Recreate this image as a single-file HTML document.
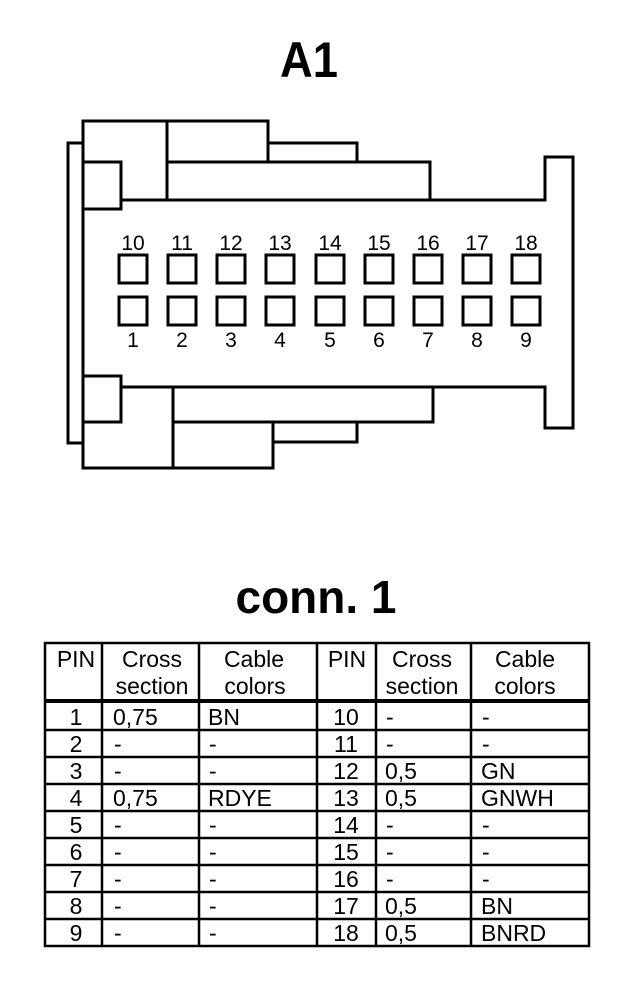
<!DOCTYPE html>
<html><head><meta charset="utf-8"><style>body{margin:0;background:#fff}svg{display:block}</style></head><body>
<svg width="640" height="1002" viewBox="0 0 640 1002" xmlns="http://www.w3.org/2000/svg" font-family="Liberation Sans, Arial, sans-serif">
<text x="309" y="77" font-size="50" font-weight="bold" text-anchor="middle" textLength="58" lengthAdjust="spacingAndGlyphs">A1</text>
<g fill="none" stroke="#000" stroke-width="3">
<rect x="68" y="143" width="15" height="300"/>
<path d="M83 121 H268 V143 H357 V162 H430 V200 H545 V157 H573 V428 H545 V387 H433 V422 H357 V442 H273 V468 H83 V422 H121 V376 H83 V209 H121 V162 H83 Z"/>
<path d="M167 121 V200 M167 162 H430 M121 200 H430 M268 143 V162 M357 143 V162"/>
<path d="M121 387 H545 M173 387 V468 M173 422 H433 M273 422 V468"/>
</g>
<g fill="none" stroke="#000" stroke-width="3">
<rect x="119" y="255" width="28" height="28"/><rect x="168" y="255" width="28" height="28"/><rect x="217" y="255" width="28" height="28"/><rect x="266" y="255" width="28" height="28"/><rect x="316" y="255" width="28" height="28"/><rect x="365" y="255" width="28" height="28"/><rect x="414" y="255" width="28" height="28"/><rect x="463" y="255" width="28" height="28"/><rect x="512" y="255" width="28" height="28"/>
<rect x="119" y="297" width="28" height="28"/><rect x="168" y="297" width="28" height="28"/><rect x="217" y="297" width="28" height="28"/><rect x="266" y="297" width="28" height="28"/><rect x="316" y="297" width="28" height="28"/><rect x="365" y="297" width="28" height="28"/><rect x="414" y="297" width="28" height="28"/><rect x="463" y="297" width="28" height="28"/><rect x="512" y="297" width="28" height="28"/>
</g>
<g font-size="21" text-anchor="middle">
<text x="133" y="250">10</text><text x="182" y="250">11</text><text x="231" y="250">12</text><text x="280" y="250">13</text><text x="330" y="250">14</text><text x="379" y="250">15</text><text x="428" y="250">16</text><text x="477" y="250">17</text><text x="526" y="250">18</text>
<text x="133" y="347">1</text><text x="182" y="347">2</text><text x="231" y="347">3</text><text x="280" y="347">4</text><text x="330" y="347">5</text><text x="379" y="347">6</text><text x="428" y="347">7</text><text x="477" y="347">8</text><text x="526" y="347">9</text>
</g>
<text x="316" y="613" font-size="46" font-weight="bold" text-anchor="middle">conn. 1</text>
<g fill="none" stroke="#000" stroke-width="2.5">
<rect x="45" y="643" width="544" height="303"/>
<path d="M102 643 V946 M199 643 V946 M317 643 V946 M376 643 V946 M471 643 V946"/>
<path d="M45 730 H589 M45 757 H589 M45 784 H589 M45 811 H589 M45 838 H589 M45 865 H589 M45 892 H589 M45 919 H589"/>
</g>
<path d="M45 701 H589" stroke="#000" stroke-width="4"/>
<g font-size="23">
<g text-anchor="middle">
<text x="76" y="667">PIN</text><text x="152" y="667">Cross</text><text x="152" y="694">section</text><text x="254" y="667">Cable</text><text x="255" y="694">colors</text>
<text x="347" y="667">PIN</text><text x="422" y="667">Cross</text><text x="422" y="694">section</text><text x="525" y="667">Cable</text><text x="525" y="694">colors</text>
<text x="76" y="725">1</text><text x="76" y="752">2</text><text x="76" y="779">3</text><text x="76" y="806">4</text><text x="76" y="833">5</text><text x="76" y="860">6</text><text x="76" y="887">7</text><text x="76" y="914">8</text><text x="76" y="941">9</text>
<text x="346" y="725">10</text><text x="346" y="752">11</text><text x="346" y="779">12</text><text x="346" y="806">13</text><text x="346" y="833">14</text><text x="346" y="860">15</text><text x="346" y="887">16</text><text x="346" y="914">17</text><text x="346" y="941">18</text>
</g>
<text x="113" y="725">0,75</text><text x="114" y="752">-</text><text x="114" y="779">-</text><text x="113" y="806">0,75</text><text x="114" y="833">-</text><text x="114" y="860">-</text><text x="114" y="887">-</text><text x="114" y="914">-</text><text x="114" y="941">-</text>
<text x="208" y="725">BN</text><text x="209" y="752">-</text><text x="209" y="779">-</text><text x="208" y="806">RDYE</text><text x="209" y="833">-</text><text x="209" y="860">-</text><text x="209" y="887">-</text><text x="209" y="914">-</text><text x="209" y="941">-</text>
<text x="386" y="725">-</text><text x="386" y="752">-</text><text x="385" y="779">0,5</text><text x="385" y="806">0,5</text><text x="386" y="833">-</text><text x="386" y="860">-</text><text x="386" y="887">-</text><text x="385" y="914">0,5</text><text x="385" y="941">0,5</text>
<text x="482" y="725">-</text><text x="482" y="752">-</text><text x="481" y="779">GN</text><text x="481" y="806">GNWH</text><text x="482" y="833">-</text><text x="482" y="860">-</text><text x="482" y="887">-</text><text x="481" y="914">BN</text><text x="481" y="941">BNRD</text>
</g>
</svg>
</body></html>
